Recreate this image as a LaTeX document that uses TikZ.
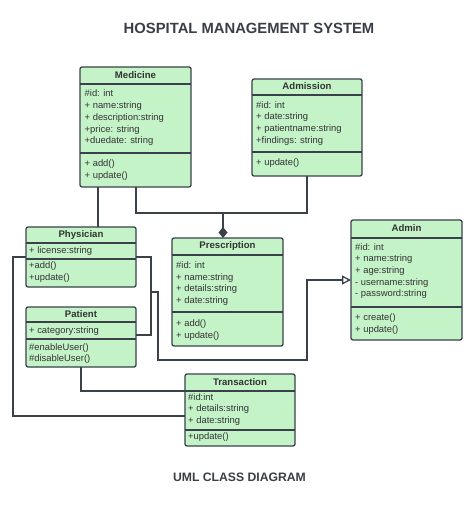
\documentclass[tikz,border=0pt]{standalone}
\usepackage{fontspec}
\setmainfont{Liberation Sans}
\usetikzlibrary{arrows.meta,calc}
\definecolor{fillc}{RGB}{196,243,200}
\definecolor{linec}{HTML}{3A414A}
\definecolor{txtc}{HTML}{333333}
\definecolor{titlec}{HTML}{3A3F47}
\tikzset{
 clsshape/.style={draw=linec, fill=fillc, rounded corners=2pt, line width=1.3pt, inner sep=0pt, outer sep=0pt},
 clsline/.style={draw=linec, line width=1.2pt},
 rowtxt/.style={anchor=base west, inner sep=0pt, text=txtc, font=\fontsize{9.4}{11}\selectfont},
 hdrtxt/.style={anchor=base, inner sep=0pt, text=txtc, font=\fontsize{9.6}{11}\selectfont\bfseries},
 conn/.style={draw=linec, line width=1.3pt},
 bigtitle/.style={inner sep=0pt, text=titlec, font=\fontsize{14.8}{16}\selectfont\bfseries},
 subtitle/.style={inner sep=0pt, text=titlec, font=\fontsize{12.2}{14}\selectfont\bfseries},
}
% #1 name, #2 left, #3 top, #4 right, #5 bottom, #6 header line y, #7 divider y
\newcommand{\clsbox}[7]{%
 \node[clsshape, minimum width={#4-#2}, minimum height={#5-#3}] (#1) at ({(#2+#4)/2},{(#3+#5)/2}) {};
 \draw[clsline] (#2,#6) -- (#4,#6) (#2,#7) -- (#4,#7);}
% #1 prefix, #2 x, #3 first baseline, #4 spacing, #5 list
\newcommand{\clsrows}[5]{%
 \foreach \t [count=\i] in {#5} {\node[rowtxt] (#1\i) at (#2, {#3+(\i-1)*#4}) {\t};}}
\begin{document}
\begin{tikzpicture}[x=1pt,y=-1pt]
\useasboundingbox (0,0) rectangle (474,510);
\fill[white] (0,0) rectangle (474,510);

\node[bigtitle] (title) at (249,28) {HOSPITAL MANAGEMENT SYSTEM};
\node[subtitle] (footer) at (239.5,477) {UML CLASS DIAGRAM};

% Medicine
\clsbox{med}{80}{67}{191}{187}{84}{153}
\node[hdrtxt] (medT) at (135.5,78.6) {Medicine};
\clsrows{medA}{84.5}{97}{11.7}{\#id: int, + name:string, + description:string, +price: string, +duedate: string}
\clsrows{medM}{84.5}{166.3}{12}{+ add(), + update()}

% Admission
\clsbox{adm}{252}{79}{362}{176}{95}{152}
\node[hdrtxt] (admT) at (307,90) {Admission};
\clsrows{admA}{256}{108.3}{11.7}{\#id: int, + date:string, + patientname:string, +findings: string}
\clsrows{admM}{256}{165.5}{12}{+ update()}

% Physician
\clsbox{phy}{26}{227}{136}{287}{243}{259}
\node[hdrtxt] (phyT) at (81,237) {Physician};
\clsrows{phyA}{29}{253.5}{12}{+ license:string}
\clsrows{phyM}{29}{268.5}{12}{+add(), +update()}

% Patient
\clsbox{pat}{26}{307}{136}{367}{322}{339}
\node[hdrtxt] (patT) at (81,317) {Patient};
\clsrows{patA}{29}{333}{12}{+ category:string}
\clsrows{patM}{29}{350}{11.8}{\#enableUser(), \#disableUser()}

% Prescription
\clsbox{pre}{172}{238}{283}{346}{255}{312}
\node[hdrtxt] (preT) at (227.5,248.6) {Prescription};
\clsrows{preA}{176}{268.3}{11.7}{\#id: int, + name:string, + details:string, + date:string}
\clsrows{preM}{176}{326.5}{12}{+ add(), + update()}

% Admin
\clsbox{admn}{351}{220}{462}{340}{238}{307}
\node[hdrtxt] (admnT) at (406.5,232) {Admin};
\clsrows{admnA}{355}{250}{11.7}{\#id: int, + name:string, + age:string, - username:string, - password:string}
\clsrows{admnM}{355}{320}{12}{+ create(), + update()}

% Transaction
\clsbox{tra}{185}{374}{295}{446}{391}{430}
\node[hdrtxt] (traT) at (240,385) {Transaction};
\clsrows{traA}{188}{400}{11.8}{\#id:int, + details:string, + date:string}
\clsrows{traM}{188}{439.5}{12}{+update()}

% connectors
\coordinate (m1) at ([xshift=18pt]med.south west);
\draw[conn] (m1) -- (m1 |- phy.north);
\coordinate (m2) at ([xshift=56pt]med.south west);
\coordinate (jn) at (223,213);
\draw[conn] (m2) |- (jn) -| (adm.south);
\draw[conn, -{Diamond[length=11pt,width=9pt]}] (jn) -- (jn |- pre.north);

\coordinate (b1) at ([xshift=15pt]phy.east);
\draw[conn] (phy.east) -- (b1) |- ([yshift=2pt]pat.east);
\coordinate (b2) at (151,292);
\coordinate (b3) at (307,360);
\draw[conn, -{Triangle[open, length=9pt, width=9pt]}] (b2) -- ++(7,0) |- (b3) |- (admn.west);

\coordinate (l1) at ([xshift=-13pt]phy.west);
\draw[conn] (phy.west) -- (l1) |- ([yshift=-6pt]tra.west);
\draw[conn] (pat.south) |- ([yshift=19pt]tra.west);
\end{tikzpicture}
\end{document}
